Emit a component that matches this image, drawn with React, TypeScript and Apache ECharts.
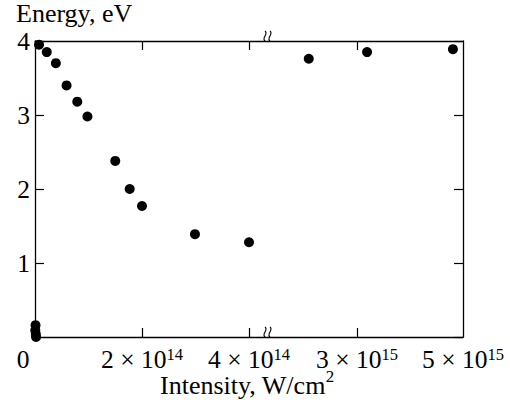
import React, { useEffect, useRef } from "react";
import * as echarts from "echarts";

// Low-intensity segment (W/cm^2, eV)
const lowX = [0.005e14, 0.01e14, 0.015e14, 0.02e14, 0.075e14, 0.22e14, 0.39e14, 0.59e14, 0.79e14, 0.98e14, 1.5e14, 1.77e14, 2.0e14, 2.99e14, 4.0e14];
const lowY = [0.09, 0.16, 0.04, 0.0, 3.95, 3.85, 3.7, 3.4, 3.18, 2.98, 2.38, 2.0, 1.77, 1.39, 1.28];
// High-intensity segment (after axis break)
const highX = [2.09e15, 3.19e15, 4.81e15];
const highY = [3.76, 3.85, 3.89];

const lowTicks = [2e14, 4e14];
const lowLabels = [0, 2e14, 4e14];
const highTicks = [3e15];
const highLabels = [3e15, 5e15];
const yMin = 0;
const yMax = 4;

const FONT = "Liberation Serif";

function sci(v: number): string {
  if (v === 0) return "{z|0}";
  const e = Math.floor(Math.log10(v) + 1e-9);
  const m = Math.round(v / Math.pow(10, e));
  return `{b|${m} × 10}{s|${e}}`;
}

const labelRich = {
  b: { fontFamily: FONT, fontSize: 25.5, fontWeight: "normal", color: "#000", verticalAlign: "bottom", lineHeight: 26 },
  s: { fontFamily: FONT, fontSize: 16.5, fontWeight: "normal", color: "#000", verticalAlign: "top", lineHeight: 16 },
  z: { fontFamily: FONT, fontSize: 25.5, fontWeight: "normal", color: "#000", padding: [0, 24, 0, 0], lineHeight: 26 },
};

export default function App() {
  const ref = useRef<HTMLDivElement>(null);
  useEffect(() => {
    if (!ref.current) return;
    const chart = echarts.init(ref.current, null, { renderer: "svg" });
    const line = { show: true, lineStyle: { color: "#000", width: 1.3 } };
    const tick = (vals: number[]) => ({ show: true, inside: true, length: 9, lineStyle: { color: "#000", width: 1.2 }, customValues: vals });
    const breakX = 268;
    const squiggle = (x: number, top: number) => ({
      type: "bezierCurve",
      shape: { x1: x, y1: top, cpx1: x + 4, cpy1: top + 3, cpx2: x - 4, cpy2: top + 7, x2: x, y2: top + 10 },
      style: { stroke: "#000", lineWidth: 1.1, fill: null },
      z: 10,
    });
    chart.setOption({
      animation: false,
      backgroundColor: "#fff",
      title: [
        { text: "Energy, eV", left: 16, top: 0, padding: 0, textStyle: { fontFamily: FONT, fontSize: 26, fontWeight: "normal", color: "#000" } },
        {
          text: "{a|Intensity, W/cm}{s|2}",
          left: 160,
          top: 368,
          padding: 0,
          textStyle: {
            fontFamily: FONT,
            fontWeight: "normal",
            fontSize: 26,
            color: "#000",
            rich: {
              a: { fontFamily: FONT, fontSize: 26, fontWeight: "normal", color: "#000", verticalAlign: "bottom", lineHeight: 30 },
              s: { fontFamily: FONT, fontSize: 17, fontWeight: "normal", color: "#000", verticalAlign: "top", lineHeight: 17 },
            },
          },
        },
      ],
      grid: [
        { left: 35, top: 41, width: breakX - 35, height: 296, outerBoundsMode: "none" },
        { left: breakX, top: 41, width: 463 - breakX, height: 296, outerBoundsMode: "none" },
      ],
      xAxis: [
        {
          gridIndex: 0, type: "value", position: "bottom", min: 0, max: 4.355e14,
          axisLine: line, axisTick: tick(lowTicks), splitLine: { show: false },
          axisLabel: { customValues: lowLabels, margin: 9, fontFamily: FONT, fontSize: 25.5, color: "#000", formatter: (v: number) => sci(v), rich: labelRich },
        },
        {
          gridIndex: 0, type: "value", position: "top", min: 0, max: 4.355e14,
          axisLine: line, axisTick: tick(lowTicks), splitLine: { show: false }, axisLabel: { show: false },
        },
        {
          gridIndex: 1, type: "value", position: "bottom", min: 1.321e15, max: 5e15,
          axisLine: line, axisTick: tick(highTicks), splitLine: { show: false },
          axisLabel: { customValues: highLabels, margin: 9, fontFamily: FONT, fontSize: 25.5, color: "#000", formatter: (v: number) => sci(v), rich: labelRich },
        },
        {
          gridIndex: 1, type: "value", position: "top", min: 1.321e15, max: 5e15,
          axisLine: line, axisTick: tick(highTicks), splitLine: { show: false }, axisLabel: { show: false },
        },
      ],
      yAxis: [
        {
          gridIndex: 0, type: "value", position: "left", min: yMin, max: yMax, interval: 1,
          axisLine: line, axisTick: { show: true, inside: true, length: 9, lineStyle: { color: "#000", width: 1.2 } },
          splitLine: { show: false },
          axisLabel: { margin: 5, showMinLabel: false, fontFamily: FONT, fontSize: 25.5, color: "#000" },
        },
        {
          gridIndex: 1, type: "value", position: "right", min: yMin, max: yMax, interval: 1,
          axisLine: line, axisTick: { show: true, inside: true, length: 9, lineStyle: { color: "#000", width: 1.2 } },
          splitLine: { show: false }, axisLabel: { show: false },
        },
      ],
      series: [
        {
          type: "scatter", xAxisIndex: 0, yAxisIndex: 0, clip: false,
          symbol: "circle", symbolSize: 10, itemStyle: { color: "#000", opacity: 1 },
          data: lowX.map((x, i) => [x, lowY[i]]),
        },
        {
          type: "scatter", xAxisIndex: 2, yAxisIndex: 1, clip: false,
          symbol: "circle", symbolSize: 10, itemStyle: { color: "#000", opacity: 1 },
          data: highX.map((x, i) => [x, highY[i]]),
        },
      ],
      graphic: [
        squiggle(breakX - 3, 31),
        squiggle(breakX + 2, 31),
        squiggle(breakX - 3, 327),
        squiggle(breakX + 2, 327),
      ],
    });
    return () => chart.dispose();
  }, []);
  return <div ref={ref} style={{ position: "fixed", left: 0, top: 0, width: 510, height: 400 }} />;
}
